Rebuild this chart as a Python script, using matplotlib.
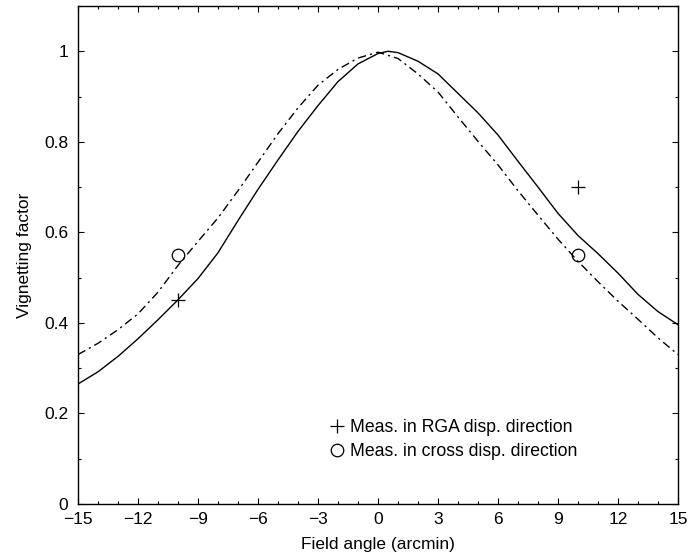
import matplotlib
matplotlib.use("Agg")
import matplotlib.pyplot as plt
from matplotlib.ticker import MultipleLocator, FormatStrFormatter

plt.rcParams['font.family'] = ['Liberation Sans', 'DejaVu Sans']

# solid curve (model, shifted peak)
angle_solid = [-15, -14, -13, -12, -11, -10, -9, -8, -7, -6, -5, -4, -3, -2, -1,
               0, 0.5, 1, 2, 3, 4, 5, 6, 7, 8, 9, 10, 11, 12, 13, 14, 15]
vig_solid = [0.265, 0.292, 0.326, 0.365, 0.407, 0.451, 0.498, 0.555, 0.626, 0.695,
             0.760, 0.823, 0.880, 0.933, 0.972, 0.995, 1.0, 0.997, 0.978, 0.950,
             0.907, 0.864, 0.815, 0.757, 0.700, 0.642, 0.593, 0.553, 0.510, 0.463,
             0.425, 0.396]

# dash-dot curve
angle_dd = list(range(-15, 16))
vig_dd = [0.330, 0.355, 0.385, 0.420, 0.468, 0.527, 0.580, 0.632, 0.692, 0.755,
          0.818, 0.875, 0.925, 0.960, 0.985, 0.998, 0.984, 0.950, 0.910, 0.855,
          0.801, 0.749, 0.692, 0.638, 0.585, 0.536, 0.491, 0.448, 0.408, 0.367,
          0.330]

# measurements
rga_x = [-10, 10]
rga_y = [0.45, 0.70]
cross_x = [-10, 10]
cross_y = [0.55, 0.55]

fig = plt.figure(figsize=(6.88, 5.54), dpi=100)
ax = fig.add_axes([78 / 688, 50 / 554, 600 / 688, 498 / 554])

ax.plot(angle_solid, vig_solid, color="black", lw=1.0)
ax.plot(angle_dd, vig_dd, color="black", lw=1.0, dashes=(6, 3, 1.5, 3))
ax.plot(rga_x, rga_y, ls="none", marker="+", ms=10, mew=0.9, color="black",
        label="Meas. in RGA disp. direction")
ax.plot(cross_x, cross_y, ls="none", marker="o", ms=9, mew=0.9, mfc="none",
        mec="black", label="Meas. in cross disp. direction")

ax.set_xlim(-15, 15)
ax.set_ylim(0, 1.1)
ax.xaxis.set_major_locator(MultipleLocator(3))
ax.xaxis.set_minor_locator(MultipleLocator(1))
ax.yaxis.set_major_locator(MultipleLocator(0.2))
ax.yaxis.set_minor_locator(MultipleLocator(0.1))
ax.yaxis.set_major_formatter(FormatStrFormatter("%g"))
ax.tick_params(which="both", direction="in", top=True, right=True, labelsize=12.5)
ax.tick_params(axis="x", pad=6)
ax.tick_params(axis="y", pad=7)
ax.tick_params(which="major", length=4.5, width=0.8)
ax.tick_params(which="minor", length=2.2, width=0.8)
for sp in ax.spines.values():
    sp.set_linewidth(1.0)

ax.set_xlabel("Field angle (arcmin)", fontsize=12.5, labelpad=7)
ax.set_ylabel("Vignetting factor", fontsize=12.5, labelpad=9)

ax.legend(loc="upper left", bbox_to_anchor=(0.4167, 0.17), frameon=False,
          fontsize=12.7, handlelength=1.0, handletextpad=0.25, borderpad=0,
          borderaxespad=0, labelspacing=0.4)

fig.savefig("out.png", dpi=100)
